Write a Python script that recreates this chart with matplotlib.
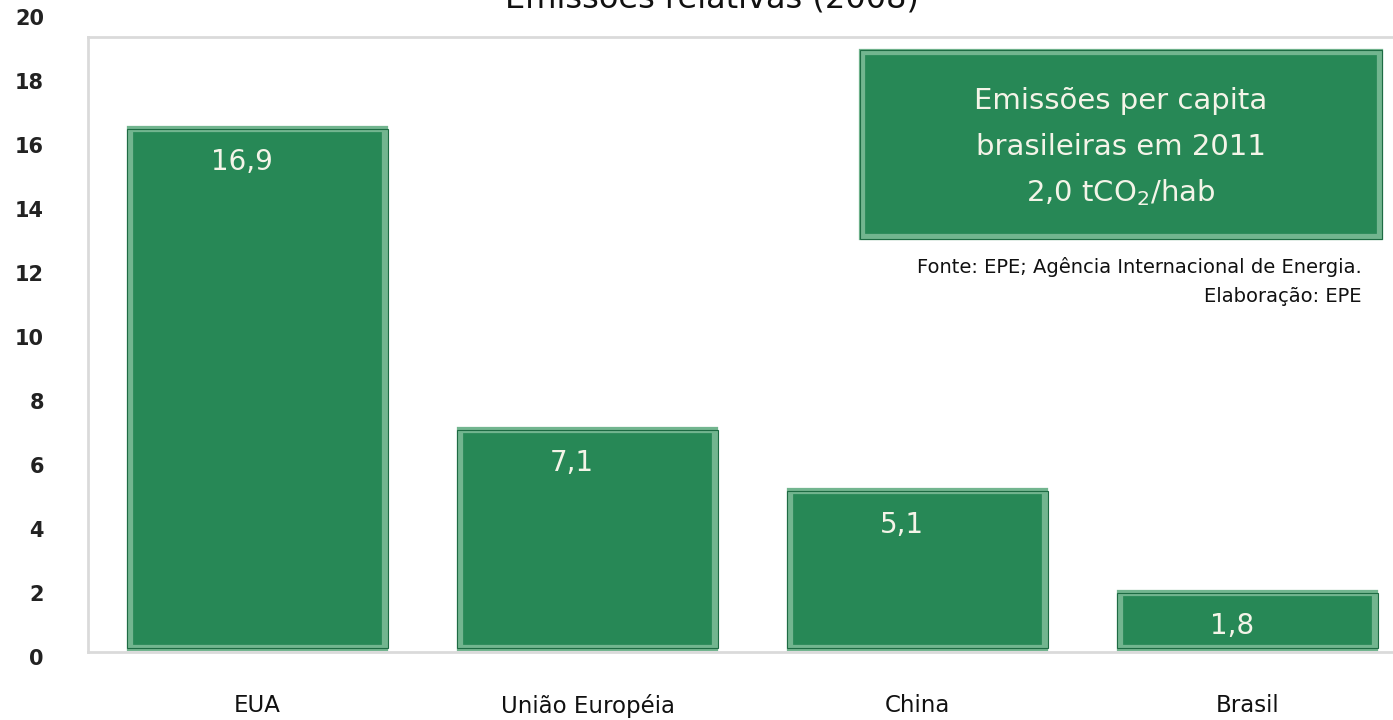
import matplotlib.pyplot as plt
from matplotlib.patches import Rectangle

plt.rcParams['font.family'] = ['DejaVu Sans']

# Emissões per capita (tCO2/hab), 2008
paises = ['EUA', 'União Européia', 'China', 'Brasil']
emissoes = [16.9, 7.1, 5.1, 1.8]
rotulos = ['16,9', '7,1', '5,1', '1,8']
yticks = list(range(0, 21, 2))

verde = '#278856'
verde_claro = '#72b58f'
verde_escuro = '#1d6b43'
cinza = '#dadada'

W, H = 1393, 720
fig = plt.figure(figsize=(W / 100, H / 100), dpi=100)

# main plot area (frame runs past the right edge)
ax = fig.add_axes([88 / W, 1 - 652 / H, (1400 - 88) / W, (652 - 37) / H])
x = range(len(paises))
ax.bar(x, emissoes, width=0.773, color=verde, edgecolor=verde_claro, linewidth=4.5, zorder=2)
ax.bar(x, emissoes, width=0.79, fill=False, edgecolor=verde_escuro, linewidth=0.8, zorder=3)
ax.set_xlim(-0.514, 3.462)
ax.set_ylim(-0.13, 19.9)
ax.set_yticks([])
ax.set_xticks(list(x))
ax.set_xticklabels(paises, fontsize=16.5, color='#111111')
ax.tick_params(axis='x', length=0, pad=30)
for s in ax.spines.values():
    s.set_color(cinza)
    s.set_linewidth(2)

for xi, v, r in zip(x, emissoes, rotulos):
    ax.annotate(r, (xi, v), xytext=(-11, -24), textcoords='offset points',
                ha='center', va='center', fontsize=20, color='#f4f4e8', zorder=4)

# y tick labels on their own axis
ay = fig.add_axes([0, 1 - 657 / H, 44 / W, (657 - 17) / H])
ay.set_ylim(0, 20)
ay.set_yticks(yticks)
ay.set_yticklabels([str(t) for t in yticks], fontweight='bold', fontsize=15,
                   color='#222222')
ay.tick_params(axis='y', length=0, pad=0)
ay.yaxis.tick_right()
ay.set_xticks([])
for s in ay.spines.values():
    s.set_visible(False)
ay.patch.set_alpha(0)
for lab in ay.get_yticklabels():
    lab.set_ha('right')

# title (cut by the top edge)
fig.text(712 / W, 1 - 8 / H, 'Emissões relativas (2008)', ha='center', va='baseline',
         fontsize=23, color='#111111')

# highlight box
bx0, by0, bx1, by1 = 862, 52, 1380, 237
fig.patches.append(Rectangle((bx0 / W, 1 - by1 / H), (bx1 - bx0) / W, (by1 - by0) / H,
                             transform=fig.transFigure, facecolor=verde,
                             edgecolor=verde_claro, linewidth=4.5, zorder=5))
fig.patches.append(Rectangle(((bx0 - 2) / W, 1 - (by1 + 2) / H), (bx1 - bx0 + 4) / W,
                             (by1 - by0 + 4) / H, transform=fig.transFigure, fill=False,
                             edgecolor=verde_escuro, linewidth=0.8, zorder=5))
cx = (bx0 + bx1) / 2
for yy, t in [(101, 'Emissões per capita'), (147, 'brasileiras em 2011'),
              (193, r'2,0 tCO$_\mathregular{2}$/hab')]:
    fig.text(cx / W, 1 - yy / H, t, ha='center', va='center', fontsize=21,
             color='#f4f4e8', zorder=6)

fig.text(1362 / W, 1 - 267 / H, 'Fonte: EPE; Agência Internacional de Energia.',
         ha='right', va='center', fontsize=14, color='#111111')
fig.text(1362 / W, 1 - 297 / H, 'Elaboração: EPE', ha='right', va='center',
         fontsize=14, color='#111111')

fig.savefig('out.png', dpi=100)
